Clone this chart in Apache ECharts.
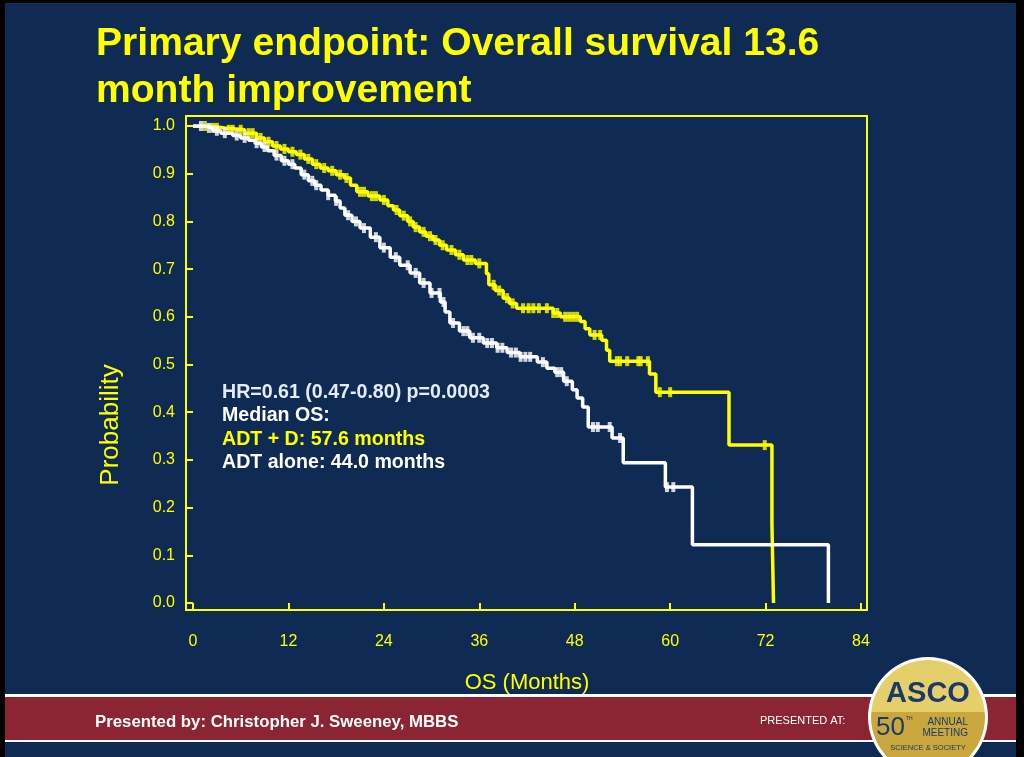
<!DOCTYPE html>
<html>
<head>
<meta charset="utf-8">
<script src="https://cdn.jsdelivr.net/npm/echarts@6/dist/echarts.min.js"></script>
<style>
html,body{margin:0;padding:0;background:#000;}
#wrap{position:relative;width:1024px;height:757px;background:#000;overflow:hidden;}
#navy{position:absolute;left:5px;top:3px;width:1011px;height:754px;background:#102B53;}
#chart{position:absolute;left:0;top:0;width:1024px;height:757px;}
</style>
</head>
<body>
<div id="wrap"><div id="navy"></div><div id="chart"></div></div>
<script>
// ---- Data ----
const xTicks = [0, 12, 24, 36, 48, 60, 72, 84];
const yTicks = [0.0, 0.1, 0.2, 0.3, 0.4, 0.5, 0.6, 0.7, 0.8, 0.9, 1.0];

// ADT + D (yellow) Kaplan-Meier steps: time (months) and survival after that time
const adtdTimes = [0, 2.0, 4.0, 6.5, 8.0, 9.0, 10.0, 11.0, 12.0, 13.0, 14.0, 15.0, 16.0, 17.0, 18.0, 19.0, 19.8, 20.6, 22.0, 23.5, 24.5, 25.2, 26.0, 27.0, 27.7, 28.5, 29.3, 30.2, 31.0, 31.9, 33.0, 34.0, 35.5, 36.9, 37.2, 38.0, 39.0, 39.8, 40.7, 45.3, 46.2, 48.7, 49.3, 49.9, 51.4, 52.0, 52.4, 57.4, 58.2, 67.4, 72.8, 73.0];
const adtdSurv  = [1.0, 0.996, 0.992, 0.985, 0.975, 0.967, 0.958, 0.952, 0.946, 0.940, 0.931, 0.920, 0.912, 0.906, 0.898, 0.891, 0.876, 0.862, 0.853, 0.845, 0.833, 0.824, 0.812, 0.800, 0.788, 0.778, 0.769, 0.761, 0.750, 0.740, 0.730, 0.719, 0.712, 0.690, 0.667, 0.655, 0.639, 0.628, 0.618, 0.608, 0.600, 0.590, 0.575, 0.562, 0.551, 0.530, 0.507, 0.480, 0.442, 0.331, 0.166, 0.0];
const adtdCensor = [1.5, 2.5, 3, 4.5, 5, 6, 7, 7.5, 8.5, 9.5, 10.5, 11.5, 12.5, 13.5, 14.5, 15.5, 16.5, 17.5, 18.5, 19.3, 21, 21.5, 22.5, 23, 24, 25.6, 26.5, 27.3, 28, 29, 29.8, 30.5, 31.4, 32.5, 33.5, 34.5, 35, 36, 37.8, 38.5, 39.5, 40.2, 41.5, 42.2, 42.8, 43.5, 44.5, 45.3, 45.8, 46.8, 47.3, 47.8, 48.3, 50.5, 51.2, 53.3, 53.7, 54.6, 56.0, 56.3, 57.2, 58.7, 60.0, 71.9];

// ADT alone (white)
const adtTimes = [0, 1.5, 2.5, 3.5, 5.0, 6.0, 7.0, 7.8, 8.6, 9.4, 10.2, 11.1, 12.0, 12.8, 13.6, 14.5, 15.3, 16.1, 17.0, 17.9, 18.5, 19.1, 20.0, 21.0, 22.3, 23.5, 24.8, 26.0, 27.3, 28.5, 29.8, 31.1, 31.7, 32.3, 33.5, 34.8, 36.5, 38.2, 39.5, 41.1, 43.3, 44.5, 45.5, 46.6, 47.7, 48.3, 49.0, 49.7, 52.7, 54.1, 59.4, 62.8, 79.9];
const adtSurv  = [1.0, 0.996, 0.990, 0.985, 0.980, 0.975, 0.970, 0.964, 0.956, 0.948, 0.938, 0.927, 0.920, 0.912, 0.898, 0.885, 0.876, 0.866, 0.855, 0.843, 0.828, 0.813, 0.800, 0.786, 0.767, 0.745, 0.725, 0.708, 0.692, 0.671, 0.650, 0.631, 0.610, 0.587, 0.570, 0.556, 0.545, 0.535, 0.525, 0.516, 0.505, 0.492, 0.484, 0.465, 0.447, 0.430, 0.411, 0.369, 0.346, 0.294, 0.243, 0.122, 0.0];
const adtCensor = [1, 2, 3, 4, 5.5, 6.5, 8, 9, 10.5, 11.5, 12.5, 14, 15, 15.5, 17, 18, 19.5, 20.5, 21.5, 23, 24, 25.5, 27, 28, 29, 30, 31.0, 31.5, 32.7, 34.0, 34.5, 35.2, 36.0, 37.0, 37.6, 38.3, 38.9, 40.0, 40.6, 41.2, 41.8, 42.4, 44.0, 45.8, 46.3, 47.0, 50.3, 50.9, 52.4, 53.7, 59.6, 60.4];

const annotationLines = ['HR=0.61 (0.47-0.80) p=0.0003', 'Median OS:', 'ADT + D: 57.6 months', 'ADT alone: 44.0 months'];

// ---- helpers ----
function survAt(times, surv, t) {
  let v = surv[0];
  for (let i = 0; i < times.length; i++) { if (times[i] <= t) v = surv[i]; }
  return v;
}
const adtdLine = adtdTimes.map((t, i) => [t, adtdSurv[i]]);
const adtLine = adtTimes.map((t, i) => [t, adtSurv[i]]);
const adtdMarks = adtdCensor.map(t => [t, survAt(adtdTimes, adtdSurv, t)]);
const adtMarks = adtCensor.map(t => [t, survAt(adtTimes, adtSurv, t)]);

const YEL = '#FFFF00';
const SANS = "'Liberation Sans', Arial, Helvetica, sans-serif";

const chart = echarts.init(document.getElementById('chart'), null, {renderer: 'canvas'});
const option = {
  backgroundColor: 'transparent',
  animation: false,
  title: {
    text: 'Primary endpoint: Overall survival 13.6\nmonth improvement',
    left: 91, top: 16,
    textStyle: {color: YEL, fontSize: 39.1, fontWeight: 'bold', fontFamily: SANS, lineHeight: 47}
  },
  grid: {left: 193, top: 126, width: 668, height: 477},
  xAxis: {
    type: 'value', min: 0, max: 84, interval: 12, offset: 7,
    axisLine: {show: false},
    axisTick: {show: true, length: 8, lineStyle: {color: YEL, width: 2}},
    axisLabel: {color: YEL, fontSize: 16, fontFamily: SANS, margin: 24,
      formatter: v => xTicks.includes(v) ? String(v) : ''},
    splitLine: {show: false},
    name: 'OS (Months)', nameLocation: 'middle', nameGap: 62,
    nameTextStyle: {color: YEL, fontSize: 22, fontFamily: SANS}
  },
  yAxis: {
    type: 'value', min: 0, max: 1, interval: 0.1, offset: 7,
    axisLine: {show: false},
    axisTick: {show: true, length: 6, lineStyle: {color: YEL, width: 2}},
    axisLabel: {color: YEL, fontSize: 16, fontFamily: SANS, margin: 11,
      formatter: v => yTicks.some(t => Math.abs(t - v) < 1e-9) ? v.toFixed(1) : ''},
    splitLine: {show: false}
  },
  series: [
    {name: 'ADT + D', type: 'line', step: 'end', data: adtdLine, showSymbol: false,
     lineStyle: {color: YEL, width: 3.5}, itemStyle: {color: YEL}, z: 3},
    {name: 'ADT + D censored', type: 'scatter', data: adtdMarks, symbol: 'rect', symbolSize: [4, 10],
     itemStyle: {color: YEL}, z: 3},
    {name: 'ADT alone', type: 'line', step: 'end', data: adtLine, showSymbol: false,
     lineStyle: {color: '#FFFFFF', width: 3.5}, itemStyle: {color: '#FFFFFF'}, z: 4},
    {name: 'ADT alone censored', type: 'scatter', data: adtMarks, symbol: 'rect', symbolSize: [4, 10],
     itemStyle: {color: '#FFFFFF'}, z: 4}
  ],
  graphic: [
    {type: 'rect', shape: {x: 186, y: 116, width: 681, height: 494}, style: {fill: 'none', stroke: YEL, lineWidth: 2}, silent: true},
    {type: 'text', x: 111, y: 425, rotation: Math.PI / 2,
     style: {text: 'Probability', fill: YEL, font: "26px " + SANS, align: 'center', verticalAlign: 'middle'}},
    {type: 'text', x: 222, y: 393, style: {text: annotationLines[0], fill: '#E4EAF6', font: "bold 19.6px " + SANS, verticalAlign: 'middle'}},
    {type: 'text', x: 222, y: 416, style: {text: annotationLines[1], fill: '#FFFFFF', font: "bold 19.6px " + SANS, verticalAlign: 'middle'}},
    {type: 'text', x: 222, y: 440, style: {text: annotationLines[2], fill: YEL, font: "bold 19.6px " + SANS, verticalAlign: 'middle'}},
    {type: 'text', x: 222, y: 463, style: {text: annotationLines[3], fill: '#FFFFFF', font: "bold 19.6px " + SANS, verticalAlign: 'middle'}},
    // footer band
    {type: 'rect', shape: {x: 5, y: 694, width: 1011, height: 3}, style: {fill: '#FFFFFF'}},
    {type: 'rect', shape: {x: 5, y: 697, width: 1011, height: 43}, style: {fill: '#8B2433'}},
    {type: 'rect', shape: {x: 5, y: 740, width: 1011, height: 2}, style: {fill: '#FFFFFF'}},
    {type: 'text', x: 95, y: 722, style: {text: 'Presented by: Christopher J. Sweeney, MBBS', fill: '#FFFFFF', font: "bold 16.8px " + SANS, verticalAlign: 'middle'}},
    {type: 'text', x: 760, y: 721, style: {text: 'PRESENTED AT:', fill: '#FFFFFF', font: "11px " + SANS, verticalAlign: 'middle'}},
    // ASCO logo
    {type: 'circle', shape: {cx: 928, cy: 717, r: 60}, style: {fill: '#FFFFFF'}},
    {type: 'circle', shape: {cx: 928, cy: 717, r: 57},
     style: {fill: new echarts.graphic.LinearGradient(0, 0, 0, 1, [
       {offset: 0, color: '#E4CF6B'}, {offset: 0.46, color: '#E4CF6B'},
       {offset: 0.46, color: '#C9A73C'}, {offset: 1, color: '#C9A73C'}])}},
    {type: 'text', x: 928, y: 694, style: {text: 'ASCO', fill: '#1B3A6B', font: "bold 29px " + SANS, align: 'center', verticalAlign: 'middle'}},
    {type: 'text', x: 905, y: 728, style: {text: '50', fill: '#1B3A6B', font: "26px " + SANS, align: 'right', verticalAlign: 'middle'}},
    {type: 'text', x: 906, y: 719, style: {text: 'TH', fill: '#1B3A6B', font: "5px " + SANS, align: 'left', verticalAlign: 'middle'}},
    {type: 'text', x: 968, y: 722, style: {text: 'ANNUAL', fill: '#1B3A6B', font: "10px " + SANS, align: 'right', verticalAlign: 'middle'}},
    {type: 'text', x: 968, y: 733, style: {text: 'MEETING', fill: '#1B3A6B', font: "10px " + SANS, align: 'right', verticalAlign: 'middle'}},
    {type: 'text', x: 928, y: 748, style: {text: 'SCIENCE & SOCIETY', fill: '#1B3A6B', font: "7.5px " + SANS, align: 'center', verticalAlign: 'middle'}}
  ]
};
chart.setOption(option);
</script>
</body>
</html>
